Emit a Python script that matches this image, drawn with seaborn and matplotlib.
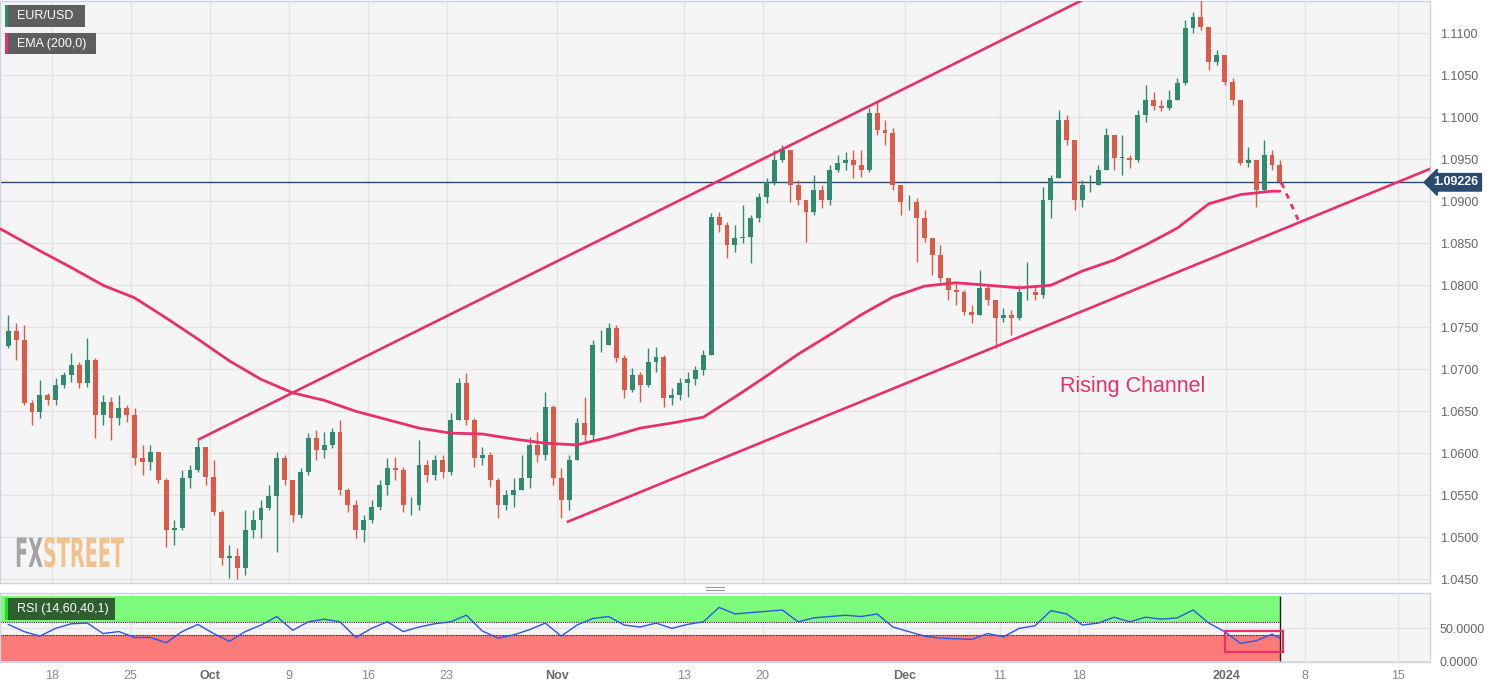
import matplotlib
matplotlib.use("Agg")

import matplotlib.pyplot as plt
import matplotlib.transforms as mtransforms
import numpy as np
import pandas as pd
import seaborn as sns
from matplotlib.font_manager import FontProperties
from matplotlib.lines import Line2D
from matplotlib.patches import PathPatch, Rectangle
from matplotlib.textpath import TextPath

# EUR/USD, 12-hour candles (13 Sep 2023 -> 5 Jan 2024)
first_open = 1.0728
closes = [
    1.0746, 1.0735, 1.0660, 1.0649, 1.0669, 1.0663, 1.0681, 1.0693, 1.0705, 1.0684,
    1.0711, 1.0646, 1.0661, 1.0642, 1.0654, 1.0646, 1.0594, 1.0590, 1.0601, 1.0568,
    1.0509, 1.0511, 1.0571, 1.0580, 1.0608, 1.0572, 1.0530, 1.0475, 1.0478, 1.0463,
    1.0509, 1.0521, 1.0535, 1.0549, 1.0594, 1.0568, 1.0527, 1.0578, 1.0618, 1.0604,
    1.0610, 1.0625, 1.0556, 1.0538, 1.0509, 1.0521, 1.0536, 1.0562, 1.0583, 1.0580,
    1.0538, 1.0538, 1.0586, 1.0574, 1.0592, 1.0578, 1.0640, 1.0684, 1.0640, 1.0594,
    1.0598, 1.0568, 1.0538, 1.0550, 1.0556, 1.0571, 1.0610, 1.0598, 1.0655, 1.0571,
    1.0544, 1.0592, 1.0636, 1.0622, 1.0729, 1.0729, 1.0749, 1.0713, 1.0675, 1.0693,
    1.0681, 1.0709, 1.0715, 1.0666, 1.0669, 1.0684, 1.0689, 1.0699, 1.0717, 1.0881,
    1.0872, 1.0848, 1.0856, 1.0857, 1.0880, 1.0905, 1.0923, 1.0949, 1.0961, 1.0919,
    1.0902, 1.0887, 1.0914, 1.0902, 1.0937, 1.0946, 1.0949, 1.0943, 1.0937, 1.1005,
    1.0985, 1.0981, 1.0919, 1.0899, 1.0899, 1.0880, 1.0856, 1.0836, 1.0809, 1.0794,
    1.0792, 1.0768, 1.0765, 1.0797, 1.0782, 1.0761, 1.0765, 1.0761, 1.0792, 1.0792,
    1.0788, 1.0902, 1.0928, 1.0997, 1.0973, 1.0902, 1.0919, 1.0919, 1.0937, 1.0979,
    1.0952, 1.0952, 1.0949, 1.1003, 1.1021, 1.1013, 1.1011, 1.1021, 1.1041, 1.1106,
    1.1119, 1.1107, 1.1066, 1.1074, 1.1042, 1.1021, 1.0946, 1.0949, 1.0914, 1.0955,
    1.0943, 1.09226,
]
highs = [
    1.0765, 1.0755, 1.0753, 1.0663, 1.0687, 1.0672, 1.0690, 1.0697, 1.0719, 1.0709,
    1.0737, 1.0713, 1.0669, 1.0667, 1.0669, 1.0657, 1.0654, 1.0610, 1.0610, 1.0598,
    1.0571, 1.0521, 1.0580, 1.0586, 1.0616, 1.0604, 1.0592, 1.0532, 1.0491, 1.0487,
    1.0532, 1.0532, 1.0544, 1.0562, 1.0601, 1.0598, 1.0562, 1.0583, 1.0624, 1.0628,
    1.0625, 1.0630, 1.0640, 1.0559, 1.0544, 1.0527, 1.0544, 1.0568, 1.0594, 1.0596,
    1.0584, 1.0548, 1.0616, 1.0592, 1.0598, 1.0598, 1.0648, 1.0690, 1.0696, 1.0642,
    1.0608, 1.0602, 1.0571, 1.0556, 1.0571, 1.0598, 1.0619, 1.0625, 1.0673, 1.0657,
    1.0583, 1.0598, 1.0642, 1.0667, 1.0735, 1.0747, 1.0755, 1.0753, 1.0717, 1.0702,
    1.0697, 1.0725, 1.0727, 1.0717, 1.0678, 1.0690, 1.0697, 1.0704, 1.0723, 1.0886,
    1.0887, 1.0875, 1.0872, 1.0896, 1.0884, 1.0910, 1.0928, 1.0961, 1.0967, 1.0961,
    1.0925, 1.0902, 1.0931, 1.0919, 1.0943, 1.0955, 1.0959, 1.0961, 1.0961, 1.1011,
    1.1018, 1.0997, 1.0987, 1.0919, 1.0908, 1.0904, 1.0890, 1.0856, 1.0848, 1.0809,
    1.0804, 1.0794, 1.0777, 1.0818, 1.0800, 1.0782, 1.0773, 1.0771, 1.0800, 1.0828,
    1.0800, 1.0917, 1.0931, 1.1009, 1.1003, 1.0973, 1.0925, 1.0931, 1.0943, 1.0987,
    1.0979, 1.0979, 1.0955, 1.1009, 1.1038, 1.1030, 1.1021, 1.1033, 1.1047, 1.1116,
    1.1125, 1.1139, 1.1107, 1.1080, 1.1074, 1.1047, 1.1021, 1.0965, 1.0949, 1.0973,
    1.0961, 1.0949,
]
lows = [
    1.0725, 1.0711, 1.0657, 1.0634, 1.0642, 1.0657, 1.0657, 1.0678, 1.0685, 1.0678,
    1.0679, 1.0618, 1.0634, 1.0616, 1.0634, 1.0637, 1.0586, 1.0574, 1.0580, 1.0565,
    1.0488, 1.0491, 1.0509, 1.0559, 1.0578, 1.0562, 1.0527, 1.0467, 1.0452, 1.0450,
    1.0455, 1.0499, 1.0499, 1.0532, 1.0482, 1.0562, 1.0518, 1.0523, 1.0574, 1.0592,
    1.0594, 1.0606, 1.0550, 1.0530, 1.0499, 1.0494, 1.0517, 1.0532, 1.0550, 1.0568,
    1.0530, 1.0527, 1.0532, 1.0566, 1.0568, 1.0571, 1.0574, 1.0640, 1.0634, 1.0584,
    1.0586, 1.0560, 1.0523, 1.0532, 1.0536, 1.0556, 1.0559, 1.0590, 1.0592, 1.0562,
    1.0523, 1.0532, 1.0592, 1.0614, 1.0616, 1.0721, 1.0729, 1.0709, 1.0666, 1.0673,
    1.0661, 1.0679, 1.0697, 1.0655, 1.0657, 1.0663, 1.0667, 1.0681, 1.0693, 1.0717,
    1.0863, 1.0833, 1.0840, 1.0850, 1.0827, 1.0875, 1.0898, 1.0919, 1.0947, 1.0899,
    1.0896, 1.0852, 1.0884, 1.0892, 1.0896, 1.0935, 1.0937, 1.0928, 1.0929, 1.0935,
    1.0979, 1.0967, 1.0914, 1.0884, 1.0890, 1.0828, 1.0852, 1.0812, 1.0804, 1.0782,
    1.0777, 1.0765, 1.0755, 1.0765, 1.0777, 1.0725, 1.0756, 1.0741, 1.0759, 1.0782,
    1.0782, 1.0785, 1.0880, 1.0928, 1.0967, 1.0890, 1.0893, 1.0911, 1.0919, 1.0937,
    1.0937, 1.0931, 1.0940, 1.0947, 1.0994, 1.1009, 1.1007, 1.1009, 1.1021, 1.1038,
    1.1100, 1.1104, 1.1056, 1.1062, 1.1038, 1.1015, 1.0943, 1.0941, 1.0893, 1.0911,
    1.0937, 1.0920,
]

# EMA(200) read at every 4th candle
ema_idx = [-1] + list(range(0, 161, 4)) + [161]
ema_vals = [
    1.0867, 1.0862, 1.0841, 1.0821, 1.0800, 1.0785, 1.0761, 1.0736, 1.0710, 1.0688,
    1.0672, 1.0663, 1.0650, 1.0640, 1.0630, 1.0624, 1.0623, 1.0617, 1.0612, 1.0610,
    1.0619, 1.0630, 1.0636, 1.0643, 1.0667, 1.0692, 1.0718, 1.0741, 1.0765, 1.0786,
    1.0799, 1.0803, 1.0800, 1.0797, 1.0800, 1.0817, 1.0830, 1.0848, 1.0868, 1.0897,
    1.0908, 1.0912, 1.0912,
]

# RSI(14) read at every 2nd candle
rsi_idx = list(range(0, 161, 2)) + [161]
rsi_vals = [
    56, 45, 38, 50, 57, 58, 42, 45, 36, 36,
    28, 45, 56, 42, 30, 45, 55, 68, 47, 60,
    64, 60, 36, 50, 60, 45, 52, 57, 60, 70,
    46, 35, 40, 48, 58, 38, 55, 65, 68, 55,
    52, 58, 50, 56, 60, 82, 72, 74, 76, 78,
    60, 66, 68, 70, 68, 72, 52, 45, 38, 35,
    34, 33, 42, 37, 50, 54, 77, 72, 55, 58,
    67, 60, 67, 64, 66, 78, 58, 45, 27, 31,
    41, 35,
]

last_price = 1.09226
upper_channel = [(24, 1.0616), (110, 1.1018)]
lower_channel = [(70.7, 1.0518), (124.5, 1.0725)]
projection = [(161.2, 1.0922), (163.4, 1.0876)]

# trading day of each date label (0 = 13 Sep)
tick_days = [3, 8, 13, 18, 23, 28, 35, 43, 48, 57, 63, 68, 77.35, 82.35, 88.2]
tick_labels = ["18", "25", "Oct", "9", "16", "23", "Nov", "13", "20", "Dec",
               "11", "18", "2024", "8", "15"]
bold_labels = {"Oct", "Nov", "Dec", "2024"}

GREEN = "#2f8a70"
RED = "#dc5b48"
PINK = "#e8306b"
NAVY = "#2b4a70"
BLUE = "#2f55e8"
GRID = "#e4e4e4"
FACE = "#f5f5f5"
SPINE = "#cdd3e4"

sns.set_theme(style="white")
plt.rcParams["font.family"] = ["Liberation Sans", "DejaVu Sans"]

W, H = 1501, 688
fig = plt.figure(figsize=(W / 100, H / 100), dpi=100)
fig.patch.set_facecolor("white")
ax = fig.add_axes([0.0, 1 - 583 / H, 1430 / W, 582 / H])
rax = fig.add_axes([0.0, 1 - 662 / H, 1430 / W, 69 / H])

xlim = (-1.05, 180.0)

# ---- price panel
df = pd.DataFrame({"close": closes, "high": highs, "low": lows})
df["open"] = df["close"].shift(1).fillna(first_open)
df["k"] = np.arange(len(df))
colors = np.where(df["close"] >= df["open"], GREEN, RED)
n = len(df)

ax.set_facecolor(FACE)
ax.vlines(df["k"], df["low"], df["high"], colors=colors, lw=1.0, zorder=3)
body_bot = df[["open", "close"]].min(axis=1)
body_h = (df["close"] - df["open"]).abs().clip(lower=0.00005)
ax.bar(df["k"], body_h, bottom=body_bot, width=0.62, color=colors, lw=0, zorder=4)

sns.lineplot(x=ema_idx, y=ema_vals, ax=ax, color=PINK, lw=2.0, zorder=5)


def trend(anchors, x_end):
    (x0, y0), (x1, y1) = anchors
    slope = (y1 - y0) / (x1 - x0)
    return [x0, x_end], [y0, y0 + slope * (x_end - x0)]


for anchors in (upper_channel, lower_channel):
    tx, ty = trend(anchors, 181)
    ax.plot(tx, ty, color=PINK, lw=1.9, zorder=5, solid_capstyle="butt")

px, py = zip(*projection)
ax.plot(px, py, color=PINK, lw=2.0, ls=(0, (2, 2.2)), zorder=5)

ax.axhline(last_price, color=NAVY, lw=1.0, zorder=2)
ax.text(142.4, 1.0680, "Rising Channel", color=PINK, fontsize=15.5,
        ha="center", va="center", zorder=6)

ax.set_xlim(xlim)
ax.set_ylim(1.04456, 1.11384)
price_ticks = np.arange(1.045, 1.1101, 0.005)
ax.set_yticks(price_ticks)
ax.set_yticklabels([f"{t:.4f}" for t in price_ticks])
ax.yaxis.tick_right()
ax.tick_params(axis="y", length=0, pad=7, labelsize=9, labelcolor="#666666")
ax.set_xticks([2 * d - 0.5 for d in tick_days])
ax.tick_params(axis="x", length=0, labelbottom=False)
ax.grid(True, color=GRID, lw=1.0, zorder=0)
ax.set_axisbelow(True)
for s in ax.spines.values():
    s.set_color(SPINE)
    s.set_linewidth(1.0)

ax.text(1.0025, last_price, "1.09226", transform=mtransforms.blended_transform_factory(
    ax.transAxes, ax.transData), color="white", fontsize=9, fontweight="bold",
    va="center", ha="left", clip_on=False, zorder=10,
    bbox=dict(boxstyle="larrow,pad=0.22", fc=NAVY, ec=NAVY))

# ---- RSI panel
rax.set_facecolor(FACE)
band_end = n - 1
rax.fill_between([xlim[0], band_end], 60, 100, color="#7cfa7c", lw=0, zorder=1)
rax.fill_between([xlim[0], band_end], 0, 40, color="#fb7b78", lw=0, zorder=1)
rax.hlines([40, 60], xlim[0], band_end, colors="#222222", linestyles=(0, (1, 1)),
           lw=0.8, zorder=2)
rax.vlines(band_end, 0, 100, colors="#222222", lw=1.0, zorder=2)
sns.lineplot(x=rsi_idx, y=rsi_vals, ax=rax, color=BLUE, lw=1.0, zorder=4)
rax.add_patch(Rectangle((154.1, 13.8), 7.3, 32.1, fill=False, ec=PINK, lw=1.6, zorder=5))

rax.set_xlim(xlim)
rax.set_ylim(-1.5, 104)
rax.set_yticks([0, 50])
rax.set_yticklabels(["0.0000", "50.0000"])
rax.yaxis.tick_right()
rax.tick_params(axis="y", length=0, pad=7, labelsize=9, labelcolor="#666666")
rax.set_xticks([2 * d - 0.5 for d in tick_days])
rax.set_xticklabels(tick_labels)
rax.tick_params(axis="x", length=0, pad=6, labelsize=9, labelcolor="#888888")
for lab in rax.get_xticklabels():
    if lab.get_text() in bold_labels:
        lab.set_fontweight("bold")
        lab.set_color("#6a6a6a")
rax.grid(True, color=GRID, lw=1.0, zorder=0)
rax.set_axisbelow(True)
for s in rax.spines.values():
    s.set_color(SPINE)
    s.set_linewidth(1.0)


# ---- legend tags (pixel boxes, top-left origin)
def tag(x, y, w, h, text, face, bar):
    fig.add_artist(Rectangle((x / W, 1 - (y + h) / H), w / W, h / H,
                             transform=fig.transFigure, fc=face, ec="none", zorder=20))
    fig.add_artist(Rectangle((x / W, 1 - (y + h) / H), 3 / W, h / H,
                             transform=fig.transFigure, fc=bar, ec="none", zorder=21))
    fig.text((x + 12) / W, 1 - (y + h / 2) / H, text, color="white", fontsize=9,
             va="center", ha="left", zorder=22)


tag(5, 5, 80, 22, "EUR/USD", "#5e5e5e", GREEN)
tag(5, 33, 91, 21, "EMA (200,0)", "#5e5e5e", PINK)
tag(5, 598, 110, 22, "RSI (14,60,40,1)", "#2f5e2f", "#1ee01e")

# panel resize handle
for yy in (587, 590):
    fig.add_artist(Line2D([706 / W, 724 / W], [1 - yy / H, 1 - yy / H],
                          transform=fig.transFigure, color="#9a9a9a", lw=0.8))

# ---- FXSTREET watermark, condensed by scaling the glyph paths
prop = FontProperties(family="DejaVu Sans", weight="bold")
p_fx = TextPath((0, 0), "FX", size=1, prop=prop)
p_st = TextPath((0, 0), "STREET", size=1, prop=prop)
ext_fx, ext_st = p_fx.get_extents(), p_st.get_extents()
total_w = ext_fx.x1 + 0.02 + ext_st.x1
sx = 109 / total_w
sy = 30 / ext_st.y1
base = mtransforms.Affine2D().scale(sx, sy)
fig.add_artist(PathPatch(p_fx, transform=base + mtransforms.Affine2D().translate(15, H - 567),
                         fc="#9b9b9b", ec="none", alpha=0.9, zorder=6))
fig.add_artist(PathPatch(p_st, transform=base + mtransforms.Affine2D().translate(
    15 + (ext_fx.x1 + 0.02) * sx, H - 567), fc="#f0c088", ec="none", alpha=0.95, zorder=6))

fig.savefig("out.png", dpi=100, facecolor="white")
